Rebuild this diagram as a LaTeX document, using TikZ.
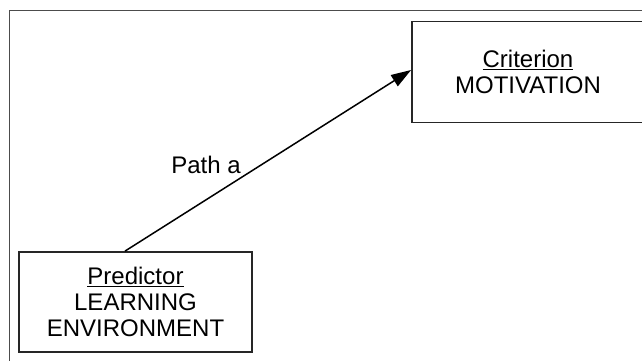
\documentclass[tikz,border=0pt]{standalone}
\usepackage{fontspec}
\setmainfont{Liberation Sans}
\usetikzlibrary{arrows.meta}
\begin{document}
\begin{tikzpicture}[x=1pt,y=-1pt,
  box/.style={draw=black!85,line width=1.8pt,rectangle,inner sep=0pt,
    align=center,text=black,font=\fontsize{24}{26}\selectfont},
  lbl/.style={text=black,font=\fontsize{24}{26}\selectfont,inner sep=0pt},
  conn/.style={draw=black,line width=1.5pt,-{Triangle[length=20pt,width=13pt]}}]
\useasboundingbox (0,0) rectangle (642,360);
\clip (0,0) rectangle (642,360);
\fill[white] (0,0) rectangle (642,360);
\draw[black!70,line width=1pt] (9,10) rectangle (660,380);
\node[box,minimum width=232pt,minimum height=101pt] (crit) at (528,72)
  {\underline{Criterion}\\MOTIVATION};
\node[box,minimum width=233pt,minimum height=100pt] (pred) at (135.5,302)
  {\underline{Predictor}\\LEARNING\\ENVIRONMENT};
\draw[conn] ([xshift=-10.5pt]pred.north) -- ([yshift=2pt]crit.west);
\node[lbl] (pa) at (206,165) {Path a};
\end{tikzpicture}
\end{document}
